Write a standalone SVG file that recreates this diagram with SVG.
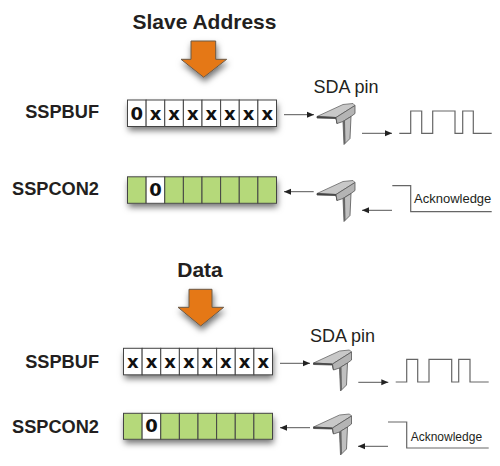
<svg xmlns="http://www.w3.org/2000/svg" width="500" height="466" viewBox="0 0 500 466">
<style>
text{font-family:"Liberation Sans",Arial,sans-serif;fill:#231f20}
.h{font-size:21px;font-weight:700;text-anchor:middle}
.r{font-size:18.200px;font-weight:700;text-anchor:end}
.p{font-size:18px}
.c{font-family:"DejaVu Sans",sans-serif;font-size:18px;font-weight:700;text-anchor:middle;fill:#111}
.w{fill:#fff;stroke:#444;stroke-width:1}
.g{fill:#b5d97a;stroke:#444;stroke-width:1}
.big{fill:#e57817;stroke:#6b5a48;stroke-width:1}
.l{fill:none;stroke:#555;stroke-width:1;marker-end:url(#a)}
.s{fill:none;stroke:#666;stroke-width:1.200}
</style>
<defs>
<marker id="a" markerUnits="userSpaceOnUse" markerWidth="8" markerHeight="8" refX="7" refY="4" orient="auto"><path d="M0 1 7 4 0 7z" fill="#222"/></marker>
<filter id="sh" x="-15%" y="-40%" width="130%" height="190%"><feDropShadow dx="1" dy="4" stdDeviation="3" flood-color="#000" flood-opacity=".55"/></filter>
<g id="pinShape" stroke-linejoin="round">
<path d="M0 0 26-12 36-13 38-11 19 1z" fill="#c8c8c8" stroke="#666" stroke-width=".8"/>
<path d="M0 0 19 1 20 7 19 2 0 1.500z" fill="#444" stroke="#444" stroke-width=".8"/>
<path d="M19 1 38-11 38-3 34 0 26 5 20 7z" fill="#b4b4b4" stroke="#555" stroke-width=".8"/>
<path d="M26 5 34 0 33 22 27 28z" fill="#c0c0c0" stroke="#555" stroke-width=".8"/>
<path d="M26 5 27 28 28.500 26.500 28 4z" fill="#666"/>
</g>
</defs>
<g id="title-slave"><text class="h" x="204.500" y="28.500">Slave Address</text></g>
<g id="arrow-slave"><path class="big" filter="url(#sh)" d="M191 41H215.700V59.300H226.700L203.700 77.300 181 59.300H191z"/></g>
<g id="label-sspbuf-1"><text class="r" x="99" y="118">SSPBUF</text></g>
<g id="label-sspcon2-1"><text class="r" x="99" y="195">SSPCON2</text></g>
<g id="sspbuf-1" transform="translate(127.500 100)">
<rect width="149" height="26.500" fill="#fff" filter="url(#sh)"/>
<rect class="w" width="18.625" height="26.500"/><rect class="w" x="18.625" width="18.625" height="26.500"/><rect class="w" x="37.250" width="18.625" height="26.500"/><rect class="w" x="55.875" width="18.625" height="26.500"/><rect class="w" x="74.500" width="18.625" height="26.500"/><rect class="w" x="93.125" width="18.625" height="26.500"/><rect class="w" x="111.750" width="18.625" height="26.500"/><rect class="w" x="130.375" width="18.625" height="26.500"/>
<text class="c" x="9.300" y="19.500">0</text><text class="c" x="28" y="19.500">x</text><text class="c" x="46.600" y="19.500">x</text><text class="c" x="65.200" y="19.500">x</text><text class="c" x="83.800" y="19.500">x</text><text class="c" x="102.400" y="19.500">x</text><text class="c" x="121" y="19.500">x</text><text class="c" x="139.700" y="19.500">x</text>
</g>
<g id="sspcon2-1" transform="translate(127.500 176.800)">
<rect width="149" height="26.500" fill="#fff" filter="url(#sh)"/>
<rect class="g" width="18.625" height="26.500"/><rect class="w" x="18.625" width="18.625" height="26.500"/><rect class="g" x="37.250" width="18.625" height="26.500"/><rect class="g" x="55.875" width="18.625" height="26.500"/><rect class="g" x="74.500" width="18.625" height="26.500"/><rect class="g" x="93.125" width="18.625" height="26.500"/><rect class="g" x="111.750" width="18.625" height="26.500"/><rect class="g" x="130.375" width="18.625" height="26.500"/>
<text class="c" x="28" y="19">0</text>
</g>
<g id="sda-label-1"><text class="p" x="313.500" y="92.700">SDA pin</text></g>
<g id="pin-1"><use href="#pinShape" transform="translate(317 116.500)"/></g>
<g id="pin-2"><use href="#pinShape" transform="translate(317 193.500)"/></g>
<g id="wave-1"><path class="s" d="M399.300 133.300H410.700V111H421.700V133.300H432.700V111H455V133.300H462.700V111H473.300V133.300H491.700"/></g>
<g id="ack-1"><path class="s" d="M392.300 185.700H410.700V211.700H491.700"/><text x="414" y="202.700" font-size="13px">Acknowledge</text></g>

<g id="title-data"><text class="h" x="200" y="276.500">Data</text></g>
<g id="arrow-data"><path class="big" filter="url(#sh)" d="M189 289.300H212V307.300H223.700L200.700 326 178 307.300H189z"/></g>
<g id="label-sspbuf-2"><text class="r" x="99" y="368">SSPBUF</text></g>
<g id="label-sspcon2-2"><text class="r" x="99" y="433">SSPCON2</text></g>
<g id="sspbuf-2" transform="translate(123.500 348.300)">
<rect width="149" height="26.500" fill="#fff" filter="url(#sh)"/>
<rect class="w" width="18.625" height="26.500"/><rect class="w" x="18.625" width="18.625" height="26.500"/><rect class="w" x="37.250" width="18.625" height="26.500"/><rect class="w" x="55.875" width="18.625" height="26.500"/><rect class="w" x="74.500" width="18.625" height="26.500"/><rect class="w" x="93.125" width="18.625" height="26.500"/><rect class="w" x="111.750" width="18.625" height="26.500"/><rect class="w" x="130.375" width="18.625" height="26.500"/>
<text class="c" x="9.300" y="19.500">x</text><text class="c" x="28" y="19.500">x</text><text class="c" x="46.600" y="19.500">x</text><text class="c" x="65.200" y="19.500">x</text><text class="c" x="83.800" y="19.500">x</text><text class="c" x="102.400" y="19.500">x</text><text class="c" x="121" y="19.500">x</text><text class="c" x="139.700" y="19.500">x</text>
</g>
<g id="sspcon2-2" transform="translate(123.500 413.300)">
<rect width="149" height="26" fill="#fff" filter="url(#sh)"/>
<rect class="g" width="18.625" height="26"/><rect class="w" x="18.625" width="18.625" height="26"/><rect class="g" x="37.250" width="18.625" height="26"/><rect class="g" x="55.875" width="18.625" height="26"/><rect class="g" x="74.500" width="18.625" height="26"/><rect class="g" x="93.125" width="18.625" height="26"/><rect class="g" x="111.750" width="18.625" height="26"/><rect class="g" x="130.375" width="18.625" height="26"/>
<text class="c" x="28" y="19">0</text>
</g>
<g id="sda-label-2"><text class="p" x="310" y="341.700">SDA pin</text></g>
<g id="pin-3"><use href="#pinShape" transform="translate(313.500 363)"/></g>
<g id="pin-4"><use href="#pinShape" transform="translate(313.500 427)"/></g>
<g id="wave-2"><path class="s" d="M395.700 382H406.700V359.300H417.700V382H429V359.300H451.700V382H458.700V359.300H470V382H488.700"/></g>
<g id="ack-2"><path class="s" d="M388 422H406.700V448H488.700"/><text x="410.700" y="440.700" font-size="12px">Acknowledge</text></g>

<g id="connectors">
<path class="l" d="M284 114.700H314"/>
<path class="l" d="M362 133.300H392"/>
<path class="l" d="M313.700 191.700H284"/>
<path class="l" d="M392 210.300H362"/>
<path class="l" d="M280 363.300H310"/>
<path class="l" d="M358.300 382.300H388.300"/>
<path class="l" d="M310 427.700H280"/>
<path class="l" d="M388 446.300H358"/>
</g>
</svg>
